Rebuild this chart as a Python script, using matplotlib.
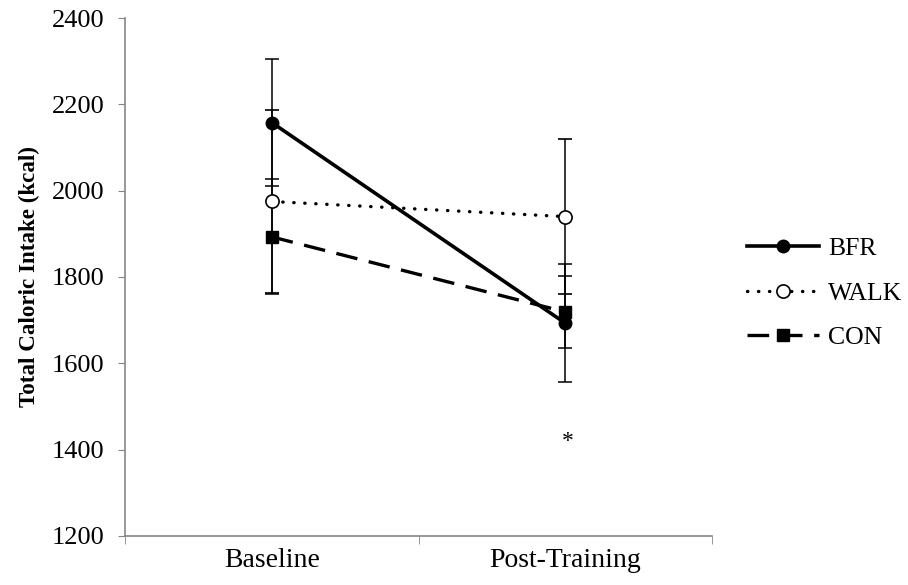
import matplotlib
matplotlib.use("Agg")
import matplotlib.pyplot as plt
from matplotlib.ticker import FixedLocator

plt.rcParams['font.family'] = ['Liberation Serif', 'DejaVu Serif']

timepoints = ['Baseline', 'Post-Training']

bfr_mean = [2158, 1693]
bfr_sd = [148, 137]
walk_mean = [1975, 1940]
walk_sd = [212, 180]
con_mean = [1893, 1719]
con_sd = [133, 84]

y_ticks = [1200, 1400, 1600, 1800, 2000, 2200, 2400]
star_value = 1418

fig = plt.figure(figsize=(9.08, 5.85), dpi=100)
ax = fig.add_axes([0.1377, 0.084, 0.6465, 0.885])

x = list(range(len(timepoints)))
err_kw = dict(ecolor='black', elinewidth=1.1, capsize=4.7, capthick=1.1)

ax.errorbar(x, bfr_mean, yerr=bfr_sd, color='black', lw=2.6, marker='o',
            ms=9, mfc='black', mec='black', label='BFR', zorder=4, **err_kw)
ax.errorbar(x, walk_mean, yerr=walk_sd, color='black', lw=2.4,
            linestyle=(0, (0.1, 3.2)), dash_capstyle='round', marker='o',
            ms=9.5, mfc='white', mec='black', mew=1.2, label='WALK',
            zorder=3, **err_kw)
ax.errorbar(x, con_mean, yerr=con_sd, color='black', lw=2.4,
            linestyle=(0, (6.5, 3.5)), marker='s', ms=9, mfc='black',
            mec='black', label='CON', zorder=3, **err_kw)

ax.text(1.01, star_value, '*', ha='center', va='center', fontsize=17)

ax.set_xlim(-0.5, 1.5)
ax.set_ylim(1200, 2400)
ax.set_yticks(y_ticks)
ax.set_xticks(x)
ax.set_xticklabels(timepoints, fontsize=20)
ax.xaxis.set_minor_locator(FixedLocator([-0.5, 0.5, 1.5]))
ax.tick_params(axis='x', which='major', length=0, pad=9)
ax.tick_params(axis='x', which='minor', length=6, color='#868686',
               direction='out')
ax.tick_params(axis='y', length=5, color='#868686', labelsize=19,
               direction='out', pad=10)

for side in ['top', 'right']:
    ax.spines[side].set_visible(False)
for side in ['left', 'bottom']:
    ax.spines[side].set_color('#868686')
    ax.spines[side].set_linewidth(1.2)

ax.set_ylabel('Total Caloric Intake (kcal)', fontsize=16.6,
              fontweight='bold', labelpad=8)

handles, labels = ax.get_legend_handles_labels()
handles = [h[0] for h in handles]
ax.legend(handles, labels, loc='center left', bbox_to_anchor=(0.8227, 0.499),
          bbox_transform=fig.transFigure, borderpad=0, borderaxespad=0,
          frameon=False, fontsize=18.5, handlelength=2.8, handletextpad=0.35,
          labelspacing=0.85)

fig.savefig('out.png', dpi=100)
